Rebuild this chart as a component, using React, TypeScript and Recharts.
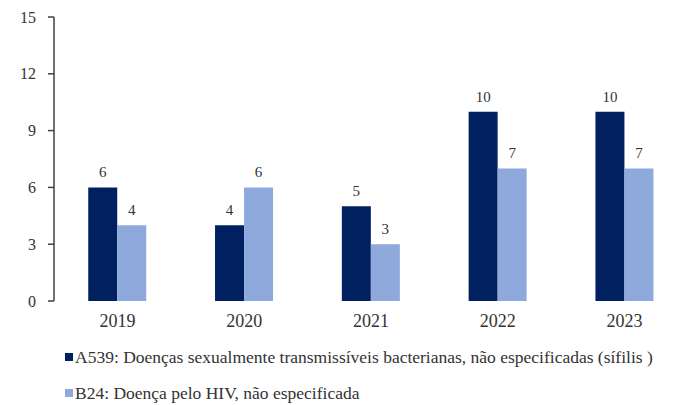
import React from "react";
import {
  BarChart,
  Bar,
  XAxis,
  YAxis,
  Legend,
  LabelList,
} from "recharts";

const years = ["2019", "2020", "2021", "2022", "2023"];
const sifilis = [6, 4, 5, 10, 10];
const hiv = [4, 6, 3, 7, 7];
const yTicks = [0, 3, 6, 9, 12, 15];
const boundaryTicks = [0, 1, 2, 3, 4, 5];

const seriesNames = {
  a539: "A539: Doenças sexualmente transmissíveis bacterianas, não especificadas (sífilis )",
  b24: "B24: Doença pelo HIV, não especificada",
};

const DARK = "#002060";
const LIGHT = "#8EA9DB";
const INK = "#333333";
const AXIS = "#404040";
const FONT = "'Liberation Serif', 'Times New Roman', serif";

function LegendBox() {
  const items = [
    { name: seriesNames.a539, color: DARK },
    { name: seriesNames.b24, color: LIGHT },
  ];
  return (
    <div style={{ height: 72, paddingTop: 17, boxSizing: "border-box", paddingLeft: 57, fontFamily: FONT }}>
      {items.map((it, i) => (
        <div
          key={it.name}
          style={{
            display: "flex",
            alignItems: "center",
            height: 18,
            lineHeight: "18px",
            marginBottom: i === 0 ? 18 : 0,
            fontSize: 17.5,
            color: INK,
            whiteSpace: "nowrap",
          }}
        >
          <span style={{ display: "inline-block", width: 8, height: 8, background: it.color, marginRight: 2 }} />
          <span>{it.name}</span>
        </div>
      ))}
    </div>
  );
}

export default function App() {
  const data = years.map((y, i) => ({ year: y, a539: sifilis[i], b24: hiv[i] }));

  return (
    <div style={{ width: 671, height: 397, overflow: "hidden", position: "relative" }}>
      <BarChart
        width={690}
        height={397}
        data={data}
        margin={{ top: 9, right: 10, left: 0, bottom: 2 }}
        barCategoryGap="27%"
        barGap={0}
        style={{ fontFamily: FONT }}
      >
        <XAxis
          xAxisId="grid"
          type="number"
          domain={[0, 5]}
          ticks={boundaryTicks}
          height={0}
          tick={false}
          tickSize={5}
          axisLine={{ stroke: AXIS, strokeWidth: 1.5 }}
          tickLine={{ stroke: AXIS, strokeWidth: 1.5 }}
        />
        <XAxis
          dataKey="year"
          height={30}
          axisLine={false}
          tickLine={false}
          tickSize={0}
          tickMargin={13}
          tick={{ fontSize: 18, fill: INK, fontFamily: FONT }}
        />
        <YAxis
          domain={[0, 15]}
          ticks={yTicks}
          width={46}
          tickSize={6}
          tickMargin={12}
          axisLine={{ stroke: AXIS, strokeWidth: 1.5 }}
          tickLine={{ stroke: AXIS, strokeWidth: 1.5 }}
          tick={{ fontSize: 16, fill: INK, fontFamily: FONT }}
        />
        <Legend verticalAlign="bottom" align="left" content={<LegendBox />} />
        <Bar dataKey="a539" name={seriesNames.a539} fill={DARK} isAnimationActive={false}>
          <LabelList dataKey="a539" position="top" offset={10} style={{ fontSize: 15, fill: INK, fontFamily: FONT }} />
        </Bar>
        <Bar dataKey="b24" name={seriesNames.b24} fill={LIGHT} isAnimationActive={false}>
          <LabelList dataKey="b24" position="top" offset={10} style={{ fontSize: 15, fill: INK, fontFamily: FONT }} />
        </Bar>
      </BarChart>
    </div>
  );
}
